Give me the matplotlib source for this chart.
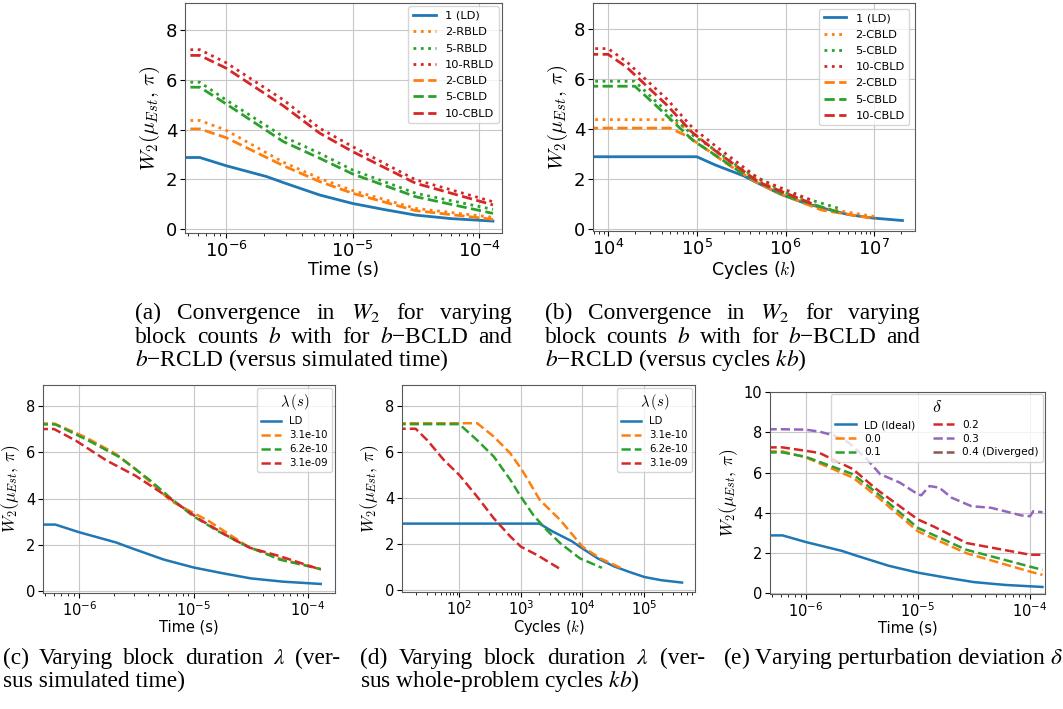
import matplotlib
matplotlib.use("Agg")
import matplotlib.pyplot as plt
from matplotlib.font_manager import FontProperties
import numpy as np

W, H = 1063, 709

# ---------------- (a)/(b): block counts ----------------
T_CYCLE = 6.2e-12  # seconds per cycle in (b)

ld_t = [0, 6.2e-7, 1e-6, 2.1e-6, 2.84e-6, 5.5e-6, 1e-5, 1.8e-5, 3.16e-5, 6e-5, 1.29e-4]
ld_w2 = [2.88, 2.88, 2.55, 2.11, 1.87, 1.37, 1.03, 0.78, 0.56, 0.42, 0.32]

blk_t = [0, 6.2e-7, 1e-6, 2.84e-6, 5.5e-6, 1e-5, 3.16e-5, 1.29e-4]
blocks = [2, 5, 10]
rbld_w2 = [
    [4.37, 4.37, 3.98, 2.69, 2.04, 1.55, 0.83, 0.47],
    [5.91, 5.91, 5.20, 3.72, 3.05, 2.38, 1.44, 0.79],
    [7.22, 7.22, 6.70, 5.20, 4.06, 3.32, 1.98, 1.10],
]
cbld_w2 = [
    [4.03, 4.03, 3.68, 2.55, 1.91, 1.44, 0.74, 0.39],
    [5.71, 5.71, 5.04, 3.52, 2.85, 2.22, 1.30, 0.63],
    [6.99, 6.99, 6.48, 4.96, 3.86, 3.12, 1.84, 0.97],
]
colors_b = ['tab:orange', 'tab:green', 'tab:red']

# ---------------- (c)/(d): block duration ----------------
lam_labels = ['3.1e-10', '6.2e-10', '3.1e-09']
lam = [3.1e-10, 6.2e-10, 3.1e-9]
lam_ld = 3.1e-10
lam_blocks = 10
lam_t = [
    [0, 6.04e-7, 1.125e-6, 2.09e-6, 3.1e-6, 3.9e-6, 6.32e-6, 1.35e-5, 3.1e-5, 6.04e-5, 1.29e-4],
    [0, 6.2e-7, 1.21e-6, 2.25e-6, 4.19e-6, 6.19e-6, 9.82e-6, 1.63e-5, 2.7e-5, 5.65e-5, 1.29e-4],
    [0, 6.04e-7, 9.35e-7, 1.74e-6, 3.1e-6, 6.04e-6, 1.125e-5, 2.09e-5, 3.1e-5, 5.64e-5, 1.29e-4],
]
lam_w2 = [
    [7.24, 7.24, 6.66, 5.93, 5.28, 4.85, 3.90, 3.04, 1.88, 1.37, 0.96],
    [7.20, 7.20, 6.50, 5.79, 4.78, 4.05, 3.26, 2.60, 2.03, 1.37, 0.96],
    [7.00, 7.00, 6.50, 5.64, 4.99, 4.05, 3.11, 2.32, 1.88, 1.52, 0.94],
]

# ---------------- (e): perturbation deviation ----------------
delta_labels = ['0.0', '0.1', '0.2', '0.3']
delta_colors = ['tab:orange', 'tab:green', 'tab:red', 'tab:purple']
delta_t = [
    [0, 6.2e-7, 1e-6, 2.63e-6, 4.27e-6, 1e-5, 2.69e-5, 1e-4, 1.29e-4],
    [0, 6.2e-7, 1e-6, 2.63e-6, 4.27e-6, 1e-5, 2.69e-5, 1e-4, 1.29e-4],
    [0, 6.2e-7, 1e-6, 1.33e-6, 2.63e-6, 4.27e-6, 1e-5, 1.37e-5, 2.72e-5, 1e-4, 1.29e-4],
    [0, 6.2e-7, 1e-6, 1.33e-6, 1.8e-6, 2.4e-6, 3.5e-6, 4.6e-6, 6.9e-6, 1e-5, 1.07e-5,
     1.27e-5, 1.55e-5, 2.0e-5, 3.0e-5, 4.5e-5, 6.8e-5, 8.4e-5, 1e-4, 1.07e-4, 1.29e-4],
]
delta_w2 = [
    [7.05, 7.05, 6.75, 5.75, 4.83, 3.08, 2.00, 1.08, 0.92],
    [7.00, 7.00, 6.78, 5.92, 5.00, 3.25, 2.17, 1.33, 1.17],
    [7.25, 7.25, 7.08, 6.97, 6.17, 5.17, 3.67, 3.33, 2.50, 1.92, 1.92],
    [8.15, 8.15, 8.13, 8.03, 7.83, 7.50, 6.67, 5.92, 5.50, 4.92, 4.87,
     5.33, 5.25, 4.75, 4.33, 4.25, 4.00, 3.87, 3.83, 4.08, 4.03],
]

YLAB = r'$W_2(\mu_{Est},\,\pi)$'

fig = plt.figure(figsize=(W / 100, H / 100), dpi=100)


def px_axes(x0, y0, x1, y1):
    return fig.add_axes([x0 / W, 1 - y1 / H, (x1 - x0) / W, (y1 - y0) / H])


def style(ax, fs_tick, fs_lab, fs_ylab, xlabel):
    ax.set_xscale('log', nonpositive='clip')
    ax.grid(True, color='#c8c8c8', lw=0.8)
    ax.tick_params(labelsize=fs_tick, pad=2)
    ax.set_xlabel(xlabel, fontsize=fs_lab, math_fontfamily='cm', labelpad=0)
    ax.set_ylabel(YLAB, fontsize=fs_ylab, math_fontfamily='cm', labelpad=3)
    for s in ax.spines.values():
        s.set_color('0.35')


def title_prop(size):
    return FontProperties(size=size, math_fontfamily='cm')


# (a)
ax = px_axes(185, 3, 502, 233)
ax.plot(ld_t, ld_w2, color='tab:blue', lw=2, label='1 (LD)')
for b, w2, c in zip(blocks, rbld_w2, colors_b):
    ax.plot(blk_t, w2, ':', color=c, lw=2, label=f'{b}-RBLD')
for b, w2, c in zip(blocks, cbld_w2, colors_b):
    ax.plot(blk_t, w2, '--', color=c, lw=2, label=f'{b}-CBLD')
ax.set_xlim(4.74e-7, 1.52e-4)
ax.set_ylim(-0.16, 9.1)
style(ax, 13, 12.5, 15, 'Time (s)')
ax.legend(loc='upper right', fontsize=8.2, borderaxespad=0.3, labelspacing=0.55)

# (b)
ax = px_axes(593, 3, 915, 231)
ax.plot(np.array(ld_t) / T_CYCLE, ld_w2, color='tab:blue', lw=2, label='1 (LD)')
for b, w2, c in zip(blocks, rbld_w2, colors_b):
    ax.plot(np.array(blk_t) / (b * T_CYCLE), w2, ':', color=c, lw=2, label=f'{b}-CBLD')
for b, w2, c in zip(blocks, cbld_w2, colors_b):
    ax.plot(np.array(blk_t) / (b * T_CYCLE), w2, '--', color=c, lw=2, label=f'{b}-CBLD')
ax.set_xlim(6.76e3, 2.88e7)
ax.set_ylim(-0.1, 9.05)
style(ax, 13, 12.5, 15, r'Cycles ($k$)')
ax.legend(loc='upper right', fontsize=8.2, labelspacing=0.55)

# (c)
ax = px_axes(43, 385, 335, 593)
ax.plot(ld_t, ld_w2, color='tab:blue', lw=1.8, label='LD')
for lb, t, w2, c in zip(lam_labels, lam_t, lam_w2, colors_b):
    ax.plot(t, w2, '--', color=c, lw=1.8, label=lb)
ax.set_xlim(4.83e-7, 1.72e-4)
ax.set_ylim(-0.07, 8.9)
style(ax, 10.5, 10.5, 12.5, 'Time (s)')
ax.legend(loc='upper right', fontsize=7.3, title=r'$\lambda\,(s)$',
          title_fontproperties=title_prop(10.5), borderaxespad=0.3, labelspacing=0.4)

# (d)
ax = px_axes(402, 385, 695, 592)
ax.plot(np.array(ld_t) / lam_ld, ld_w2, color='tab:blue', lw=1.8, label='LD')
for lb, l, t, w2, c in zip(lam_labels, lam, lam_t, lam_w2, colors_b):
    ax.plot(np.array(t) / (l * lam_blocks), w2, '--', color=c, lw=1.8, label=lb)
ax.set_xlim(11.7, 6.76e5)
ax.set_ylim(-0.09, 8.9)
style(ax, 10.5, 10.5, 12.5, r'Cycles ($k$)')
ax.legend(loc='upper right', fontsize=7.3, title=r'$\lambda\,(s)$',
          title_fontproperties=title_prop(10.5), borderaxespad=0.3, labelspacing=0.4)

# (e)
ax = px_axes(770, 392, 1045, 594)
ax.plot(ld_t, ld_w2, color='tab:blue', lw=1.8, label='LD (Ideal)')
for lb, t, w2, c in zip(delta_labels, delta_t, delta_w2, delta_colors):
    ax.plot(t, w2, '--', color=c, lw=1.8, label=lb)
ax.plot([], [], '--', color='tab:brown', lw=1.8, label='0.4 (Diverged)')
ax.set_xlim(4.79e-7, 1.36e-4)
ax.set_ylim(-0.03, 10.0)
style(ax, 10.5, 10.5, 12.5, 'Time (s)')
ax.legend(loc='upper right', fontsize=7.6, ncol=2, title=r'$\delta$',
          title_fontproperties=title_prop(13), borderaxespad=0.2, columnspacing=1.6,
          labelspacing=0.35)

# ---------------- captions ----------------
CAP_FS = 16.8
cap_kw = dict(fontfamily='Liberation Serif', fontsize=CAP_FS, math_fontfamily='stix',
              va='baseline', ha='left')
renderer = fig.canvas.get_renderer()


def caption(text, x0, y, x1=None):
    if x1 is None:
        fig.text(x0 / W, 1 - y / H, text, **cap_kw)
        return
    words = text.split(' ')
    texts = [fig.text(0, 1 - y / H, w, **cap_kw) for w in words]
    widths = [t.get_window_extent(renderer).width for t in texts]
    gap = (x1 - x0 - sum(widths)) / (len(words) - 1)
    x = x0
    for t, w in zip(texts, widths):
        t.set_x(x / W)
        x += w + gap


for x0, x1, tag in [(135, 512, 'a'), (545, 920, 'b')]:
    caption(f'({tag}) Convergence in $W_2$ for varying', x0, 319, x1)
    caption('block counts $b$ with for $b$\u2212BCLD and', x0, 343, x1)
caption('$b$\u2212RCLD (versus simulated time)', 135, 366)
caption('$b$\u2212RCLD (versus cycles $kb$)', 545, 366)

caption(r'(c) Varying block duration $\lambda$ (ver-', 3, 664, 340)
caption('sus simulated time)', 3, 687)
caption(r'(d) Varying block duration $\lambda$ (ver-', 360, 664, 705)
caption('sus whole-problem cycles $kb$)', 360, 687)
caption(r'(e) Varying perturbation deviation $\delta$', 723, 664)

fig.savefig('out.png', dpi=100)
